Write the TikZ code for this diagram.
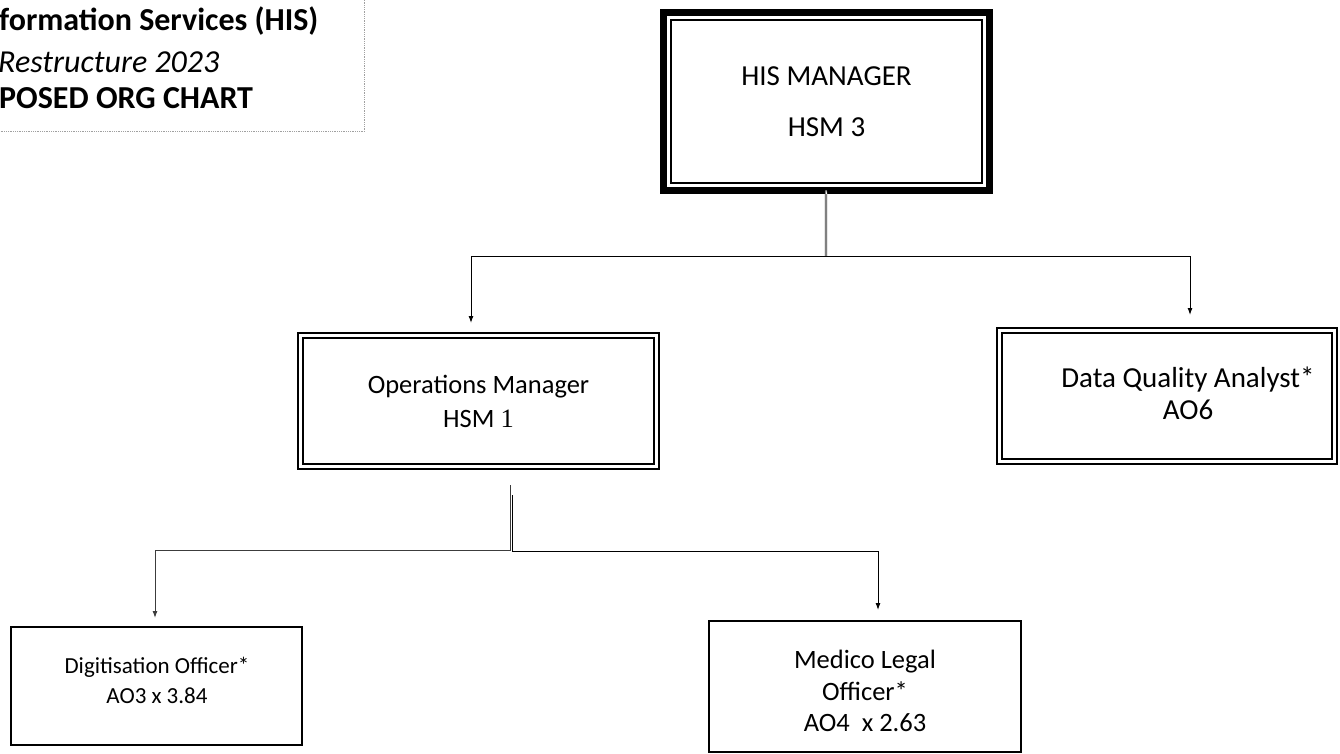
\documentclass[tikz,border=0pt]{standalone}
\usepackage{fontspec}
\setmainfont{Carlito}
\newfontfamily\seriffont{Liberation Serif}
\usetikzlibrary{positioning,arrows.meta}
\tikzset{arista/.style={line width=1pt, -{Latex[length=7pt,width=5pt]}}}
\tikzset{tronco/.style={line width=0.6pt, draw=grislinea, double, double distance=0.9pt}}
\tikzset{caja/.style={draw, line width=2pt, outer sep=0pt, inner sep=0pt, align=center}}
\tikzset{cajadoble/.style={caja, line width=2.4pt, double, double distance=2.6pt}}
\tikzset{cajagruesa/.style={caja, line width=7pt}}
\tikzset{texto/.style={align=center, inner sep=0pt}}
\definecolor{grisborde}{RGB}{160,160,160}
\definecolor{grislinea}{RGB}{60,60,60}

\begin{document}
\begin{tikzpicture}[x=1pt, y=-1pt]
            \useasboundingbox (0,0) rectangle (1340,754);
            \node[draw=grisborde, densely dotted, line width=0.8pt, anchor=south east, minimum width=400pt, minimum height=160pt] (marco) at (365,132) {};
            \node[anchor=base west, inner sep=0pt, font=\fontsize{32}{38}\selectfont\bfseries] (titulo1) at (-1,31) {formation Services (HIS)};
            \node[anchor=base west, inner sep=0pt, font=\fontsize{32}{38}\selectfont\itshape] (titulo2) at (-2,72.5) {Restructure 2023};
            \node[anchor=base west, inner sep=0pt, font=\fontsize{32}{38}\selectfont\bfseries] (titulo3) at (-1,109) {POSED ORG CHART};

            \node[cajagruesa, minimum width=326pt, minimum height=178pt, font=\fontsize{29}{51}\selectfont] (gerente) at (826.5,101.5) {HIS MANAGER\\HSM 3};
            \draw[line width=1.5pt] ([xshift=7.5pt,yshift=-7.5pt]gerente.north west) rectangle ([xshift=-7.5pt,yshift=7.5pt]gerente.south east);
            \node[cajadoble, minimum width=355.5pt, minimum height=130.5pt, font=\fontsize{26.5}{34}\selectfont] (operaciones) at (478.5,401) {Operations Manager\\HSM {\seriffont 1}};
            \node[cajadoble, minimum width=334.5pt, minimum height=130.5pt] (calidad) at (1167,396) {};
            \node[texto, font=\fontsize{29}{32}\selectfont] (calidadtexto) at (1188,393) {Data Quality Analyst*\\AO6};
            \node[caja, minimum width=291pt, minimum height=118pt] (digitalizacion) at (156.5,686) {};
            \node[texto, font=\fontsize{23}{30}\selectfont] (digitalizaciontexto) at (157,680) {Digitisation Officer*\\AO3 x 3.84};
            \node[caja, minimum width=312pt, minimum height=131pt] (medicolegal) at (865,686.5) {};
            \node[texto, font=\fontsize{26.5}{31.5}\selectfont] (medicolegaltexto) at (865,691) {Medico Legal\\Officer*\\AO4\ \ x 2.63};

            \coordinate (nudo1) at (826,256);
            \coordinate (tronco1) at (510.7,485);
            \coordinate (tronco2) at (512.3,495);
            \coordinate (nudo2) at (155,550);
            \coordinate (nudo3) at (878,551.3);

            \draw[tronco] ([yshift=-3.5pt]gerente.south) -- (nudo1 |- gerente.south) -- (nudo1);
            \draw[arista, shorten >=12.75pt] (nudo1) -| ([xshift=-7.5pt]operaciones.north);
            \draw[arista, shorten >=15.75pt] (nudo1) -| ([xshift=23pt]calidad.north);
            \draw[arista, draw=grislinea, shorten >=9pt] (tronco1) |- (nudo2) -- (nudo2 |- digitalizacion.north);
            \draw[arista, shorten >=11pt] (tronco2) |- (nudo3) -- (nudo3 |- medicolegal.north);
        \end{tikzpicture}
\end{document}
